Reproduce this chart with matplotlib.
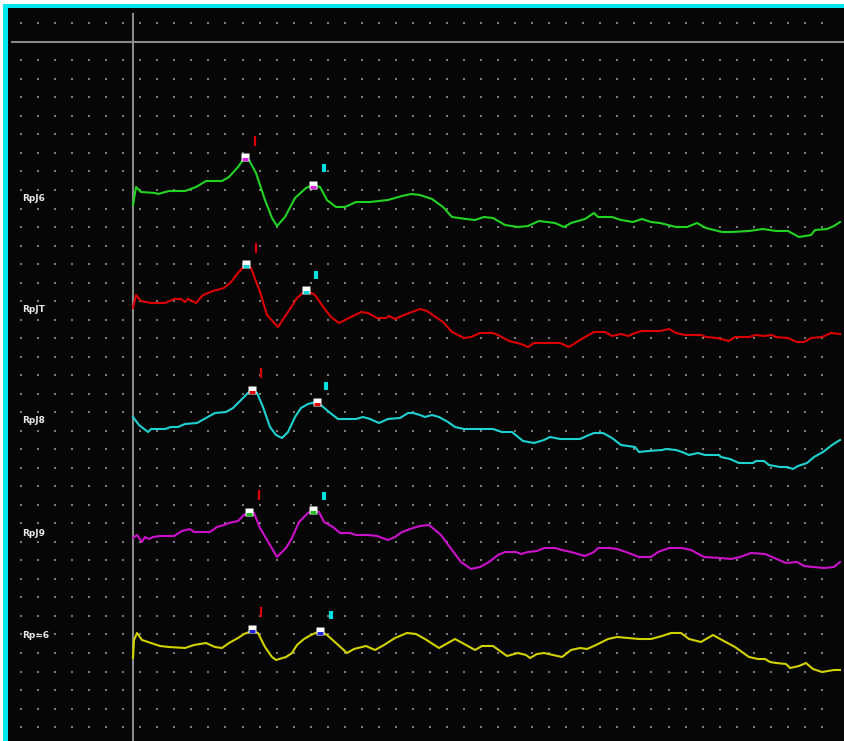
import numpy as np
import matplotlib
matplotlib.use("Agg")
import matplotlib.pyplot as plt
from matplotlib.patches import Rectangle

# channel names and vertical offsets (uV)
names = ["RpJ6", "RpJT", "RpJ8", "RpJ9", "Rp=6"]
offsets = [5.42, 4.31, 3.20, 2.08, 1.06]
colors = ["#22d422", "#dc0000", "#1ed2d2", "#cc10cc", "#d2d200"]
band_colors = ["#e020e0", "#10d8d8", "#e00000", "#20c020", "#2020e0"]

# traces: (time ms, amplitude uV)
green = [(0.00, -0.06), (0.03, 0.12), (0.08, 0.07), (0.22, 0.06), (0.25, 0.05), (0.36, 0.08),
         (0.52, 0.08), (0.63, 0.12), (0.73, 0.18), (0.89, 0.18), (0.96, 0.22), (1.05, 0.32),
         (1.12, 0.42), (1.16, 0.39), (1.23, 0.26), (1.32, -0.01), (1.39, -0.19), (1.44, -0.27),
         (1.52, -0.18), (1.62, 0.01), (1.73, 0.11), (1.80, 0.14), (1.87, 0.12), (1.94, -0.01),
         (2.03, -0.08), (2.12, -0.08), (2.23, -0.03), (2.37, -0.03), (2.55, -0.01), (2.69, 0.03),
         (2.78, 0.05), (2.87, 0.04), (2.99, 0.00), (3.10, -0.08), (3.19, -0.18), (3.33, -0.20),
         (3.42, -0.21), (3.51, -0.18), (3.60, -0.19), (3.72, -0.26), (3.85, -0.28), (3.95, -0.27),
         (4.06, -0.22), (4.22, -0.24), (4.31, -0.28), (4.38, -0.24), (4.52, -0.20), (4.61, -0.14),
         (4.65, -0.18), (4.79, -0.18), (4.88, -0.21), (5.00, -0.23), (5.09, -0.20), (5.18, -0.23),
         (5.27, -0.24), (5.43, -0.28), (5.54, -0.28), (5.64, -0.24), (5.73, -0.29), (5.89, -0.33),
         (5.98, -0.33), (6.16, -0.32), (6.30, -0.30), (6.43, -0.32), (6.55, -0.32), (6.66, -0.38),
         (6.78, -0.36), (6.82, -0.31), (6.94, -0.30), (7.01, -0.27), (7.07, -0.23)]

red = [(0.00, 0.02), (0.03, 0.15), (0.08, 0.09), (0.18, 0.07), (0.32, 0.07), (0.41, 0.11),
       (0.48, 0.11), (0.52, 0.08), (0.55, 0.11), (0.63, 0.07), (0.70, 0.15), (0.80, 0.19),
       (0.91, 0.22), (0.98, 0.28), (1.05, 0.37), (1.13, 0.46), (1.18, 0.42), (1.27, 0.18),
       (1.34, -0.05), (1.45, -0.17), (1.55, -0.02), (1.64, 0.12), (1.73, 0.20), (1.82, 0.15),
       (1.91, 0.02), (1.98, -0.07), (2.06, -0.13), (2.16, -0.08), (2.28, -0.02), (2.35, -0.03),
       (2.44, -0.08), (2.53, -0.08), (2.56, -0.06), (2.62, -0.09), (2.71, -0.05), (2.87, 0.01),
       (2.94, -0.01), (3.01, -0.06), (3.10, -0.12), (3.19, -0.22), (3.31, -0.28), (3.38, -0.27),
       (3.47, -0.23), (3.60, -0.23), (3.65, -0.25), (3.76, -0.31), (3.88, -0.34), (3.95, -0.37),
       (4.01, -0.33), (4.17, -0.33), (4.27, -0.33), (4.36, -0.37), (4.47, -0.30), (4.61, -0.22),
       (4.72, -0.22), (4.79, -0.26), (4.88, -0.24), (4.95, -0.26), (5.02, -0.23), (5.09, -0.21),
       (5.27, -0.21), (5.36, -0.19), (5.43, -0.23), (5.52, -0.25), (5.68, -0.25), (5.73, -0.27),
       (5.84, -0.28), (5.96, -0.31), (6.02, -0.27), (6.16, -0.27), (6.23, -0.25), (6.30, -0.26),
       (6.39, -0.25), (6.43, -0.27), (6.55, -0.28), (6.64, -0.32), (6.71, -0.32), (6.78, -0.28),
       (6.89, -0.27), (6.98, -0.23), (7.07, -0.24)]

cyan = [(0.00, 0.04), (0.06, -0.04), (0.15, -0.11), (0.18, -0.08), (0.32, -0.08), (0.38, -0.06),
        (0.45, -0.06), (0.52, -0.03), (0.64, -0.02), (0.73, 0.03), (0.82, 0.08), (0.93, 0.09),
        (1.00, 0.13), (1.07, 0.20), (1.15, 0.28), (1.19, 0.31), (1.24, 0.28), (1.30, 0.14),
        (1.37, -0.06), (1.43, -0.14), (1.49, -0.17), (1.55, -0.11), (1.62, 0.04), (1.68, 0.13),
        (1.75, 0.17), (1.83, 0.19), (1.89, 0.15), (1.96, 0.09), (2.05, 0.02), (2.23, 0.02),
        (2.30, 0.04), (2.37, 0.02), (2.46, -0.02), (2.55, 0.02), (2.67, 0.03), (2.75, 0.08),
        (2.80, 0.08), (2.87, 0.06), (2.92, 0.04), (2.99, 0.06), (3.06, 0.04), (3.15, -0.01),
        (3.22, -0.06), (3.31, -0.08), (3.60, -0.08), (3.69, -0.11), (3.79, -0.11), (3.90, -0.20),
        (4.01, -0.22), (4.11, -0.19), (4.17, -0.16), (4.27, -0.18), (4.33, -0.18), (4.47, -0.18),
        (4.56, -0.14), (4.61, -0.12), (4.70, -0.12), (4.79, -0.17), (4.88, -0.24), (5.02, -0.26),
        (5.06, -0.31), (5.15, -0.30), (5.29, -0.29), (5.33, -0.28), (5.43, -0.29), (5.49, -0.31),
        (5.56, -0.34), (5.65, -0.32), (5.72, -0.34), (5.86, -0.34), (5.88, -0.36), (5.97, -0.38),
        (6.06, -0.42), (6.20, -0.42), (6.23, -0.40), (6.31, -0.40), (6.36, -0.44), (6.47, -0.46),
        (6.54, -0.46), (6.60, -0.48), (6.65, -0.45), (6.74, -0.42), (6.81, -0.36), (6.90, -0.31),
        (6.99, -0.24), (7.07, -0.19)]

magenta = [(0.00, -0.05), (0.04, -0.02), (0.09, -0.09), (0.12, -0.04), (0.16, -0.06), (0.20, -0.04),
           (0.27, -0.03), (0.41, -0.03), (0.49, 0.02), (0.57, 0.04), (0.61, 0.01), (0.77, 0.01),
           (0.84, 0.06), (0.91, 0.08), (0.96, 0.10), (1.05, 0.12), (1.11, 0.18), (1.16, 0.21),
           (1.21, 0.20), (1.27, 0.05), (1.37, -0.12), (1.44, -0.24), (1.53, -0.15), (1.59, -0.05),
           (1.66, 0.11), (1.75, 0.20), (1.80, 0.23), (1.86, 0.21), (1.91, 0.11), (2.00, 0.06),
           (2.07, 0.00), (2.17, 0.00), (2.23, -0.02), (2.35, -0.02), (2.44, -0.03), (2.55, -0.07),
           (2.62, -0.04), (2.69, 0.01), (2.80, 0.05), (2.87, 0.07), (2.96, 0.08), (3.08, -0.02),
           (3.19, -0.17), (3.28, -0.29), (3.38, -0.36), (3.47, -0.34), (3.56, -0.29), (3.65, -0.22),
           (3.72, -0.19), (3.83, -0.19), (3.88, -0.21), (3.95, -0.19), (4.04, -0.18), (4.11, -0.15),
           (4.22, -0.15), (4.29, -0.17), (4.38, -0.19), (4.52, -0.23), (4.61, -0.19), (4.65, -0.15),
           (4.77, -0.15), (4.84, -0.16), (4.93, -0.19), (5.06, -0.24), (5.18, -0.24), (5.25, -0.19),
           (5.36, -0.15), (5.49, -0.15), (5.58, -0.17), (5.71, -0.24), (5.87, -0.25), (5.98, -0.26),
           (6.07, -0.24), (6.18, -0.20), (6.32, -0.21), (6.39, -0.24), (6.53, -0.30), (6.64, -0.29),
           (6.71, -0.33), (6.80, -0.34), (6.91, -0.35), (7.01, -0.34), (7.07, -0.29)]

yellow = [(0.00, -0.23), (0.01, -0.05), (0.04, 0.02), (0.09, -0.05), (0.18, -0.08), (0.27, -0.11),
          (0.36, -0.12), (0.52, -0.13), (0.61, -0.10), (0.73, -0.08), (0.82, -0.12), (0.89, -0.13),
          (0.96, -0.08), (1.05, -0.03), (1.11, 0.01), (1.19, 0.04), (1.25, 0.02), (1.32, -0.12),
          (1.39, -0.22), (1.43, -0.25), (1.53, -0.22), (1.59, -0.18), (1.64, -0.10), (1.71, -0.04),
          (1.78, 0.00), (1.87, 0.04), (1.94, 0.00), (2.03, -0.08), (2.14, -0.18), (2.21, -0.14),
          (2.33, -0.11), (2.42, -0.15), (2.51, -0.10), (2.62, -0.03), (2.74, 0.02), (2.83, 0.01),
          (2.92, -0.04), (3.06, -0.13), (3.22, -0.04), (3.33, -0.10), (3.42, -0.15), (3.49, -0.11),
          (3.60, -0.11), (3.74, -0.21), (3.85, -0.18), (3.93, -0.20), (3.97, -0.23), (4.04, -0.19),
          (4.11, -0.18), (4.20, -0.20), (4.29, -0.22), (4.38, -0.15), (4.47, -0.13), (4.54, -0.14),
          (4.63, -0.10), (4.75, -0.04), (4.84, -0.02), (4.95, -0.03), (5.06, -0.04), (5.18, -0.04),
          (5.29, -0.01), (5.38, 0.02), (5.48, 0.02), (5.56, -0.04), (5.68, -0.07), (5.80, 0.00),
          (5.89, -0.05), (6.02, -0.12), (6.16, -0.22), (6.25, -0.24), (6.32, -0.24), (6.37, -0.27),
          (6.43, -0.28), (6.53, -0.29), (6.57, -0.33), (6.66, -0.31), (6.73, -0.28), (6.80, -0.34),
          (6.89, -0.37), (7.01, -0.35), (7.07, -0.35)]

traces = [green, red, cyan, magenta, yellow]

# peak markers (latency ms, amplitude uV)
peak1 = [(1.12, 0.415), (1.13, 0.46), (1.19, 0.31), (1.16, 0.21), (1.19, 0.065)]
peak2 = [(1.80, 0.14), (1.73, 0.20), (1.835, 0.185), (1.80, 0.23), (1.87, 0.04)]
# cursor ticks above the peaks
red_cursor = [(1.22, 0.575), (1.23, 0.62), (1.28, 0.475), (1.26, 0.385), (1.28, 0.23)]
cyan_cursor = [(1.91, 0.31), (1.83, 0.35), (1.93, 0.345), (1.91, 0.365), (1.975, 0.205)]

W, H = 844, 741
fig = plt.figure(figsize=(W / 100, H / 100), dpi=100, facecolor="white")

# cyan frame on left and top (background axes)
frame = fig.add_axes([3 / W, 0, 1 - 3 / W, 1 - 4 / H])
frame.set_facecolor("#00e6ee")
frame.set_xticks([])
frame.set_yticks([])
for s in frame.spines.values():
    s.set_visible(False)
frame.set_zorder(0)

ax = fig.add_axes([7.5 / W, 0, 1 - 7.5 / W, 1 - 7.5 / H])
ax.set_zorder(1)
ax.set_facecolor("#060606")
ax.set_xlim(-1.255, 7.11)
ax.set_ylim(0, 7.335)
ax.set_xticks([])
ax.set_yticks([])
for s in ax.spines.values():
    s.set_visible(False)

# dotted grid
gx = -1.12 + 0.1704 * np.arange(48)
gy = 7.177 - 0.1852 * np.arange(39)
GX, GY = np.meshgrid(gx, gy)
ax.scatter(GX.ravel(), GY.ravel(), s=1.3, marker="s", color="#7c7c7c", linewidths=0, zorder=1)

# stimulus line and top reference line
ax.axvline(0, ymin=0, ymax=(7.27 / 7.335), color="#8a8a8a", lw=1.5, zorder=2)
ax.plot([-1.21, 7.11], [6.99, 6.99], color="#8a8a8a", lw=1.5, zorder=2)

for i, tr in enumerate(traces):
    t = [p[0] for p in tr]
    a = [p[1] + offsets[i] for p in tr]
    ax.plot(t, a, color=colors[i], lw=1.5, zorder=3)
    ax.text(-1.11, offsets[i], names[i], color="#e8e8e8", fontsize=6.5, fontweight="bold",
            ha="left", va="center", zorder=4)
    for pk in (peak1[i], peak2[i]):
        ax.plot(pk[0], pk[1] + offsets[i], marker="s", ms=5.8, mfc="white", mec="none", zorder=5)
        ax.plot(pk[0], pk[1] + offsets[i] - 0.02, marker="_", ms=5.0, mew=2.2,
                color=band_colors[i], zorder=6)
    ax.plot(red_cursor[i][0], red_cursor[i][1] + offsets[i], marker="|", ms=6.5, mew=1.6,
            color="#dd0000", zorder=5)
    ax.plot(cyan_cursor[i][0], cyan_cursor[i][1] + offsets[i], marker="|", ms=6.0, mew=3.0,
            color="#00e0e0", zorder=5)

fig.savefig("out.png", dpi=100, facecolor=fig.get_facecolor())
